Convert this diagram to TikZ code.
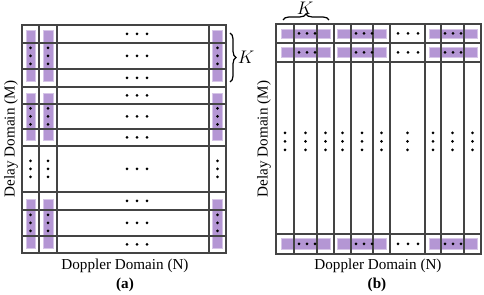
\documentclass[tikz,border=0pt]{standalone}
\usepackage{fontspec}
\setmainfont{Liberation Serif}
\usetikzlibrary{decorations.pathreplacing}
\definecolor{gridgray}{RGB}{68,68,68}
\definecolor{slotpurple}{RGB}{180,150,212}

\begin{document}
\begin{tikzpicture}[x=0.66pt, y=-0.66pt, font=\fontsize{10}{12}\selectfont]
\tikzset{
	gridline/.style={draw=gridgray, line width=1.2pt},
	slot/.style={fill=slotpurple, draw=slotpurple!55, line width=0.6pt},
	kbrace/.style={decorate, decoration={brace, amplitude=4pt}, line width=0.8pt},
	klabel/.style={font=\fontsize{12}{14}\selectfont, inner sep=1pt},
	panellabel/.style={font=\fontsize{10}{12}\selectfont\bfseries}
}
\useasboundingbox (0,0) rectangle (484,295);

% (a) column-wise slots
\foreach \xl/\xr in {26/35, 43/53, 212/222}
	\foreach \yt/\yb in {30/81, 93/140, 199/248}
		\path[slot] (\xl,\yt) rectangle (\xr,\yb);

\foreach \y in {43,69,87,104,129,146,192,210,236}
	\draw[gridline] (22,\y) -- (226,\y);
\foreach \x in {39,57,209}
	\draw[gridline] (\x,25) -- (\x,253);
\draw[gridline] (22,25) rectangle (226,253);

\foreach \yc in {34,56,78,95.5,116.5,137.5,169,201,223,244.5}
	\foreach \dx in {-10,0,10}
		\fill (137+\dx,\yc) circle (1.5);
\foreach \xc in {30.5,48,217.5}
	\foreach \yc in {56,116.5,169,223}
		\foreach \dy in {-8,0,8}
			\fill (\xc,\yc+\dy) circle (1.5);

\draw[kbrace] (230,33) -- (230,82);
\node[klabel] (ka) at (246,57) {$K$};
\node[rotate=90] (delaya) at (11,139) {Delay Domain (M)};
\node (dopplera) at (125,266) {Doppler Domain (N)};
\node[panellabel] (capa) at (125,285) {(a)};

% (b) row-wise slots
\foreach \xl/\xr in {281/330, 337/386, 429/477}
	\foreach \yt/\yb in {29/38, 47/57, 238/249}
		\path[slot] (\xl,\yt) rectangle (\xr,\yb);

\foreach \y in {43,62,234}
	\draw[gridline] (276,\y) -- (481,\y);
\foreach \x in {294,317,334,351,373,390,425,441,464}
	\draw[gridline] (\x,24) -- (\x,254);
\draw[gridline] (276,24) rectangle (481,254);

\foreach \yc in {33.5,52.5,244}{
	\foreach \xc in {307,364,453}
		\foreach \dx in {-8,0,8}
			\fill (\xc+\dx,\yc) circle (1.5);
	\foreach \dx in {-10,0,10}
		\fill (408+\dx,\yc) circle (1.5);
}
\foreach \xc in {285,305.5,325.5,342.5,362,381.5,407.5,433,452.5,472.5}
	\foreach \yc in {133,141.5,150}
		\fill (\xc,\yc) circle (1.5);

\draw[kbrace] (283,20) -- (329,20);
\node[klabel] (kb) at (305,8) {$K$};
\node[rotate=90] (delayb) at (264,139) {Delay Domain (M)};
\node (dopplerb) at (378,266) {Doppler Domain (N)};
\node[panellabel] (capb) at (377,285) {(b)};

\end{tikzpicture}
\end{document}
